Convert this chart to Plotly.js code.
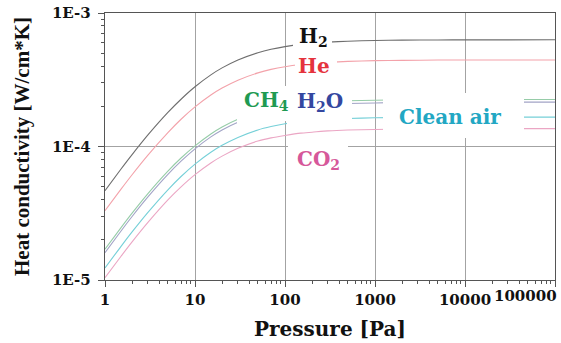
<!DOCTYPE html>
<html><head><meta charset="utf-8">
<script src="https://cdn.plot.ly/plotly-3.0.1.min.js"></script>
<style>html,body{margin:0;padding:0;background:#fff}#chart{width:561px;height:343px}</style>
</head><body><div id="chart"></div>
<script>
// Pressure [Pa] and heat conductivity [W/cm*K]
const pressure = [1, 1.5, 2, 3, 5, 7, 10, 15, 20, 30, 50, 70, 100, 150, 200, 300, 500, 1000, 2000, 5000, 10000, 100000];
const kH2  = [4.67e-5, 6.75e-5, 8.69e-5, 1.22e-4, 1.80e-4, 2.26e-4, 2.80e-4, 3.44e-4, 3.88e-4, 4.45e-4, 5.04e-4, 5.35e-4, 5.60e-4, 5.82e-4, 5.93e-4, 6.05e-4, 6.15e-4, 6.22e-4, 6.26e-4, 6.28e-4, 6.29e-4, 6.30e-4];
const kHe  = [3.30e-5, 4.77e-5, 6.14e-5, 8.61e-5, 1.27e-4, 1.60e-4, 1.98e-4, 2.43e-4, 2.74e-4, 3.14e-4, 3.56e-4, 3.78e-4, 3.96e-4, 4.11e-4, 4.19e-4, 4.27e-4, 4.34e-4, 4.40e-4, 4.42e-4, 4.44e-4, 4.45e-4, 4.45e-4];
const kCH4 = [1.70e-5, 2.46e-5, 3.17e-5, 4.44e-5, 6.54e-5, 8.20e-5, 1.01e-4, 1.24e-4, 1.40e-4, 1.60e-4, 1.81e-4, 1.92e-4, 2.01e-4, 2.08e-4, 2.12e-4, 2.16e-4, 2.20e-4, 2.22e-4, 2.24e-4, 2.245e-4, 2.25e-4, 2.25e-4];
const kH2O = [1.60e-5, 2.32e-5, 2.99e-5, 4.19e-5, 6.18e-5, 7.76e-5, 9.60e-5, 1.18e-4, 1.33e-4, 1.52e-4, 1.72e-4, 1.83e-4, 1.91e-4, 1.99e-4, 2.02e-4, 2.07e-4, 2.10e-4, 2.12e-4, 2.14e-4, 2.145e-4, 2.15e-4, 2.15e-4];
const kAir = [1.23e-5, 1.78e-5, 2.29e-5, 3.21e-5, 4.74e-5, 5.96e-5, 7.38e-5, 9.05e-5, 1.02e-4, 1.17e-4, 1.33e-4, 1.41e-4, 1.48e-4, 1.53e-4, 1.56e-4, 1.59e-4, 1.62e-4, 1.64e-4, 1.65e-4, 1.656e-4, 1.66e-4, 1.66e-4];
const kCO2 = [1.04e-5, 1.50e-5, 1.93e-5, 2.70e-5, 3.98e-5, 4.98e-5, 6.15e-5, 7.53e-5, 8.47e-5, 9.69e-5, 1.10e-4, 1.16e-4, 1.21e-4, 1.26e-4, 1.28e-4, 1.31e-4, 1.33e-4, 1.34e-4, 1.35e-4, 1.357e-4, 1.36e-4, 1.36e-4];

const seriesNames = ['H2', 'He', 'CH4', 'H2O', 'Clean air', 'CO2'];
const labelTexts = ['H<sub>2</sub>', 'He', 'CH<sub>4</sub>', 'H<sub>2</sub>O', 'Clean air', 'CO<sub>2</sub>'];
const xTickVals = [1, 10, 100, 1000, 10000, 100000];
const xTickText = ['1', '10', '100', '1000', '10000', '100000'];
const yTickVals = [1e-5, 1e-4, 1e-3];
const yTickText = ['1E-5', '1E-4', '1E-3'];

// ---- styling / layout ----
const W = 561, H = 343, L = 105, R = 6, T = 13, B = 63;
const pw = W - L - R, ph = H - T - B;
const px = x => (x - L) / pw;
const py = y => (H - B - y) / ph;

const lineColors = ['#6e6e6e', '#f3a2aa', '#96cca8', '#a2a4c6', '#76d0d8', '#eba6c4'];
const labelColors = ['#111111', '#e5333d', '#1f9a52', '#3447a0', '#22a7c3', '#d6589a'];
const serif = 'DejaVu Serif, serif';
const tickFont = {family: serif, size: 15, color: '#111111', weight: 'bold'};

const values = [kH2, kHe, kCH4, kH2O, kAir, kCO2];
const traces = values.map((v, i) => ({
  x: pressure, y: v, type: 'scatter', mode: 'lines', name: seriesNames[i],
  line: {color: lineColors[i], width: 1.1, shape: 'spline', smoothing: 0.6},
  hoverinfo: 'skip'
}));

function whiteRect(x0, y0, x1, y1) {
  return {type: 'rect', xref: 'paper', yref: 'paper', x0: px(x0), x1: px(x1), y0: py(y1), y1: py(y0),
          fillcolor: '#ffffff', line: {width: 0}, layer: 'above'};
}
function whitePoly(pts) {
  return {type: 'path', xref: 'paper', yref: 'paper', layer: 'above', fillcolor: '#ffffff', line: {width: 0},
          path: 'M ' + pts.map(p => px(p[0]) + ',' + py(p[1])).join(' L ') + ' Z'};
}
const shapes = [
  whiteRect(293, 25, 332, 52),
  whiteRect(295, 55, 337, 78),
  whitePoly([[237, 86], [352, 86], [352, 120], [287, 128], [287, 121], [237, 124]]),
  whiteRect(383, 93, 524, 138),
  whiteRect(288, 139, 348, 178)
];

const labelPos = [[313, 37], [314, 66], [266, 101], [320, 102], [450, 117], [318, 160]];
const annotations = labelTexts.map((t, i) => ({
  text: t, xref: 'paper', yref: 'paper', x: px(labelPos[i][0]), y: py(labelPos[i][1]),
  xanchor: 'center', yanchor: 'middle', showarrow: false,
  font: {family: serif, size: 20, color: labelColors[i], weight: 'bold'}
}));

// the last x tick label sits flush with the right edge of the picture, as in the reference
const lastIdx = xTickText.length - 1;
const xTickShown = xTickText.map((t, i) => i === lastIdx ? '' : t);
annotations.push({
  text: xTickText[lastIdx], xref: 'paper', yref: 'paper', x: px(559), y: py(296),
  xanchor: 'right', yanchor: 'middle', showarrow: false, font: tickFont
});

const axisCommon = {
  type: 'log', showgrid: true, gridcolor: '#a3a3a3', gridwidth: 1,
  showline: true, linecolor: '#555555', linewidth: 1.3, mirror: true,
  ticks: 'outside', ticklen: 6, tickcolor: '#555555', tickwidth: 1,
  zeroline: false, tickmode: 'array',
  minor: {ticks: 'outside', ticklen: 3, tickcolor: '#555555', showgrid: false, dtick: 'D1'},
  tickfont: tickFont
};

const layout = {
  width: W, height: H, margin: {l: L, r: R, t: T, b: B},
  paper_bgcolor: '#ffffff', plot_bgcolor: '#ffffff', showlegend: false,
  xaxis: Object.assign({}, axisCommon, {
    range: [0, 5], tickvals: xTickVals, ticktext: xTickShown,
    title: {text: 'Pressure [Pa]', standoff: 13, font: {family: serif, size: 20, color: '#111111', weight: 'bold'}}
  }),
  yaxis: Object.assign({}, axisCommon, {
    range: [-5, -3], tickvals: yTickVals, ticktext: yTickText, ticklabelstandoff: 4,
    title: {text: 'Heat conductivity [W/cm*K]', standoff: 16, font: {family: 'Liberation Serif, serif', size: 21, color: '#111111', weight: 'bold'}}
  }),
  shapes: shapes, annotations: annotations
};

Plotly.newPlot('chart', traces, layout, {staticPlot: true, displayModeBar: false});
</script>
</body></html>
